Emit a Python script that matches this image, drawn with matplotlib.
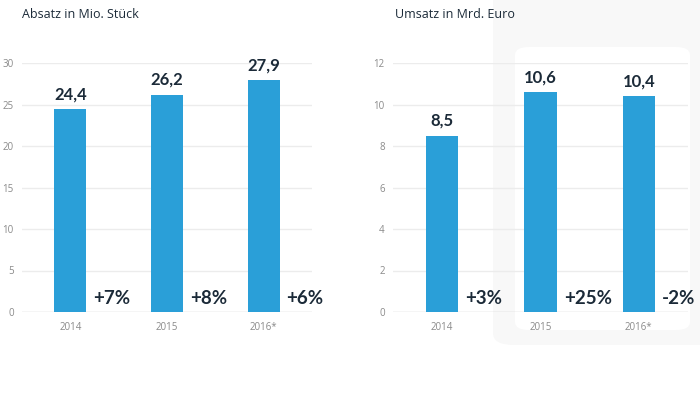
import matplotlib
matplotlib.use("Agg")
import matplotlib.pyplot as plt
from matplotlib.patches import FancyBboxPatch

years = ["2014", "2015", "2016*"]
absatz = [24.4, 26.2, 27.9]
absatz_labels = ["24,4", "26,2", "27,9"]
absatz_change = ["+7%", "+8%", "+6%"]
umsatz = [8.5, 10.6, 10.4]
umsatz_labels = ["8,5", "10,6", "10,4"]
umsatz_change = ["+3%", "+25%", "-2%"]

plt.rcParams['font.family'] = ['Open Sans', 'DejaVu Sans']
BOLD = ['Lato', 'DejaVu Sans']

BAR = "#2a9fd8"
TXT = "#1b2a38"
W, H = 700, 394
fig = plt.figure(figsize=(7, 3.94), dpi=100)
fig.patch.set_facecolor("white")

# faint decorative background
def px(x0, y0, x1, y1):
    return (x0 / W, 1 - y1 / H, (x1 - x0) / W, (y1 - y0) / H)

b = px(493, -20, 720, 345)
fig.patches.append(FancyBboxPatch((b[0], b[1]), b[2], b[3], boxstyle="round,pad=0,rounding_size=0.03",
                                  transform=fig.transFigure, fc="#f8f8f8", ec="none", zorder=-2))
b = px(515, 47, 690, 330)
fig.patches.append(FancyBboxPatch((b[0], b[1]), b[2], b[3], boxstyle="round,pad=0,rounding_size=0.02",
                                  transform=fig.transFigure, fc="white", ec="none", zorder=-1))

def panel(rect, vals, labels, changes, ymax, step, title, title_x):
    x0, y0, x1, y1 = rect
    ax = fig.add_axes([x0 / W, 1 - y1 / H, (x1 - x0) / W, (y1 - y0) / H], zorder=2)
    ax.patch.set_alpha(0)
    xs = list(range(len(vals)))
    ax.bar(xs, vals, width=0.33, color=BAR, zorder=3)
    ax.set_xlim(-0.5, 2.5)
    ax.set_ylim(0, ymax)
    ticks = list(range(0, ymax + 1, step))
    ax.set_yticks(ticks)
    ax.set_yticklabels([str(t) for t in ticks])
    ax.set_xticks(xs)
    ax.set_xticklabels(years)
    for s in ax.spines.values():
        s.set_visible(False)
    ax.tick_params(length=0, labelsize=7, colors="#8a8a8a")
    ax.tick_params(axis="y", pad=6)
    ax.tick_params(axis="x", pad=7)
    for t in ticks:
        ax.axhline(t, color="#cfcfcf" if t == 0 else "#ececec", lw=1, zorder=1)
    for x, v, l, c in zip(xs, vals, labels, changes):
        ax.annotate(l, (x, v), xytext=(0, 5), textcoords="offset points",
                    ha="center", va="bottom", fontsize=12, fontweight="bold", color=TXT,
                    family=BOLD)
        ax.annotate(c, (x + 0.165, 0), xytext=(5, 9.5), textcoords="offset points",
                    ha="left", va="center", fontsize=13.5, fontweight="bold", color=TXT,
                    family=BOLD)
    fig.text(title_x / W, 1 - 15 / H, title, fontsize=9, color=TXT, va="center", ha="left", zorder=3)
    return ax

panel((22, 63, 312, 312), absatz, absatz_labels, absatz_change, 30, 5, "Absatz in Mio. Stück", 22)
panel((393, 63, 688, 312), umsatz, umsatz_labels, umsatz_change, 12, 2, "Umsatz in Mrd. Euro", 395)

fig.savefig("out.png", dpi=100)
